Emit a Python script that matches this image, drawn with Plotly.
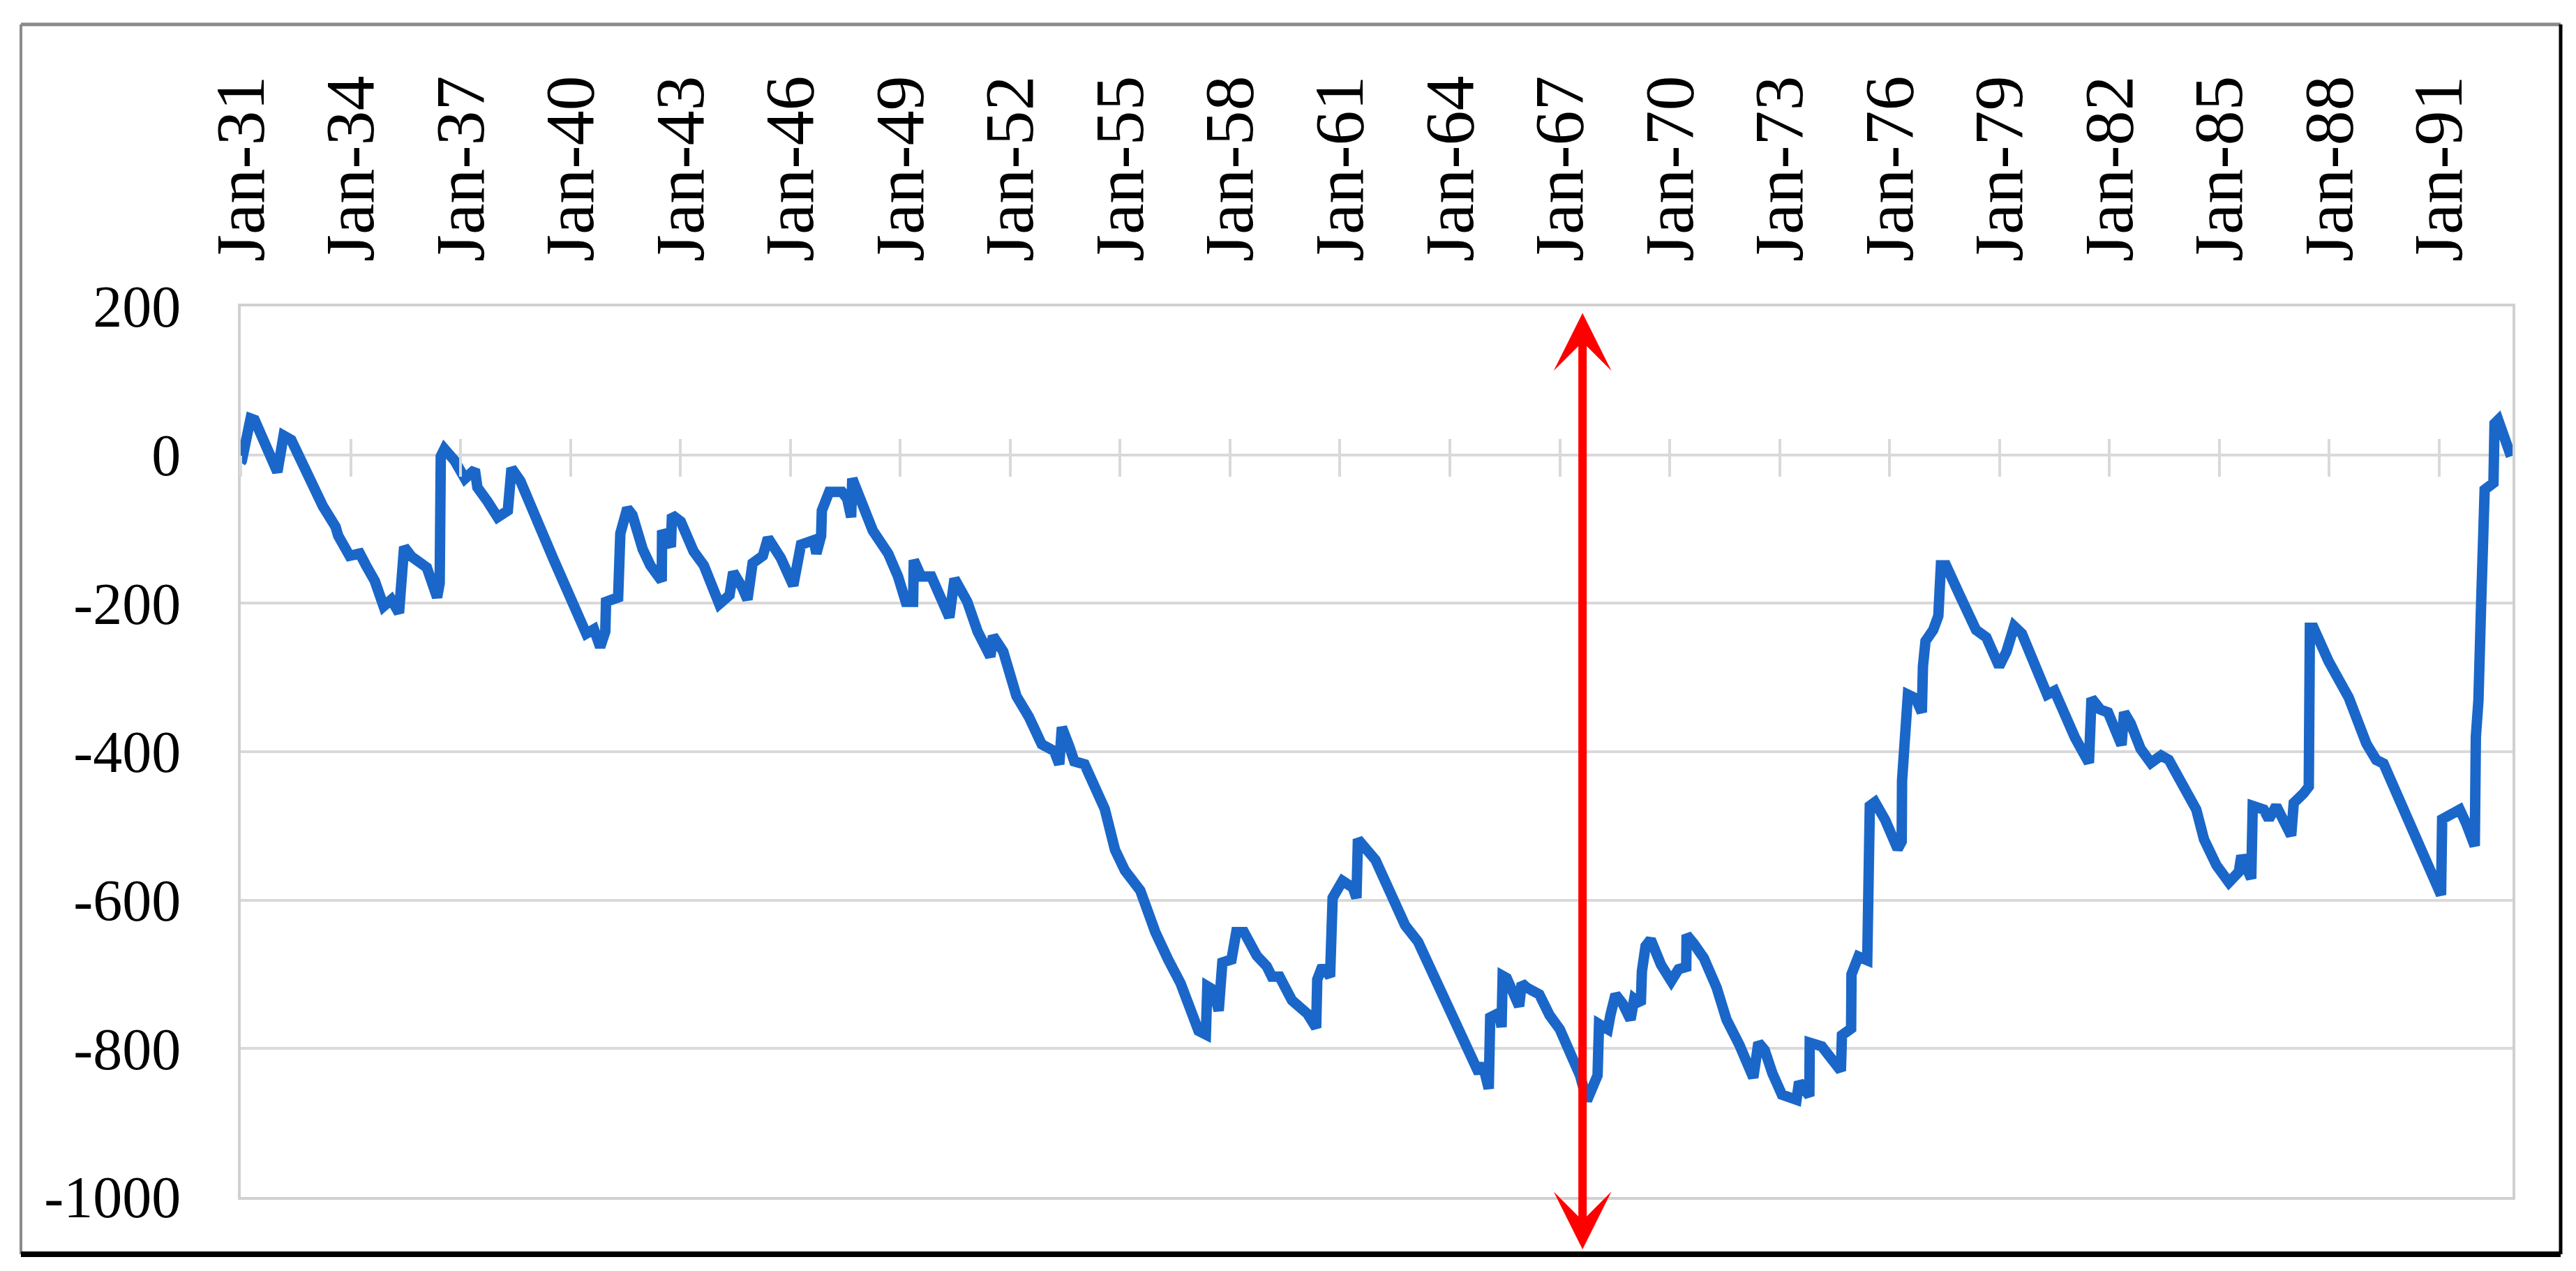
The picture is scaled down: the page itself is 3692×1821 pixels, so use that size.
import plotly.graph_objects as go

# ---------------- data ----------------
years = [
    1931.00, 1931.03, 1931.27, 1931.38, 1932.00, 1932.17, 1932.38, 1932.90, 1933.24, 1933.59,
    1933.66, 1933.97, 1934.25, 1934.42, 1934.66, 1934.90, 1935.11, 1935.32, 1935.39, 1935.46,
    1935.66, 1936.08, 1936.36, 1936.43, 1936.46, 1936.56, 1936.84, 1937.12, 1937.39, 1937.46,
    1937.74, 1938.01, 1938.29, 1938.39, 1938.63, 1939.12, 1939.53, 1940.02, 1940.43, 1940.64,
    1940.81, 1940.95, 1940.97, 1941.30, 1941.36,
    1941.55, 1941.69, 1941.97, 1942.18, 1942.49, 1942.50, 1942.74, 1942.77, 1943.01, 1943.36,
    1943.64, 1944.06, 1944.34, 1944.44, 1944.69, 1944.83, 1944.97, 1945.25, 1945.39, 1945.74,
    1946.08, 1946.29, 1946.64, 1946.71, 1946.84, 1946.86, 1947.06, 1947.41, 1947.55, 1947.66,
    1947.69, 1947.90, 1948.25, 1948.67, 1948.94, 1949.15, 1949.35, 1949.37, 1949.57, 1949.85,
    1950.34, 1950.48, 1950.83, 1951.11, 1951.46, 1951.53, 1951.81,
    1952.17, 1952.51, 1952.86, 1953.20, 1953.34, 1953.41, 1953.62, 1953.75, 1954.03, 1954.58,
    1954.86, 1955.13, 1955.55, 1955.96, 1956.31, 1956.65, 1957.14, 1957.34, 1957.38, 1957.55,
    1957.69, 1957.79, 1958.04, 1958.17, 1958.38, 1958.73, 1959.00, 1959.14, 1959.35, 1959.69,
    1960.11, 1960.35, 1960.38, 1960.52, 1960.73, 1960.80, 1961.07, 1961.35, 1961.45, 1961.49,
    1961.97, 1962.59,
    1962.78, 1963.13, 1963.34, 1963.68, 1964.03, 1964.37, 1964.65, 1964.79, 1964.89, 1965.06,
    1965.10, 1965.34, 1965.41, 1965.44, 1965.55, 1965.68, 1965.89, 1965.96, 1966.10, 1966.44,
    1966.72, 1967.00, 1967.27, 1967.55, 1967.74, 1967.89, 1968.03, 1968.07, 1968.31, 1968.38,
    1968.52, 1968.72, 1968.93, 1969.03, 1969.21, 1969.24, 1969.34, 1969.48, 1969.76, 1970.04,
    1970.24, 1970.45, 1970.46, 1970.66, 1970.93, 1971.28, 1971.55, 1971.90, 1972.11, 1972.28,
    1972.42, 1972.59, 1972.80,
    1973.06, 1973.46, 1973.53, 1973.81, 1973.82, 1974.15, 1974.43, 1974.67, 1974.70, 1974.95,
    1974.96, 1975.15, 1975.39, 1975.43, 1975.46, 1975.60, 1975.88, 1976.22, 1976.33, 1976.34,
    1976.43, 1976.50, 1976.71, 1976.88, 1976.91, 1976.98, 1977.19, 1977.33, 1977.40, 1977.54,
    1977.95, 1978.36, 1978.64, 1978.99, 1979.19, 1979.40, 1979.61, 1979.95, 1980.30, 1980.50,
    1980.71, 1981.06, 1981.44, 1981.51, 1981.75, 1981.96, 1982.33, 1982.40, 1982.58, 1982.85,
    1983.13, 1983.41, 1983.62,
    1984.03, 1984.37, 1984.58, 1984.92, 1985.26, 1985.53, 1985.60, 1985.87, 1985.91, 1986.21,
    1986.35, 1986.55, 1986.96, 1987.03, 1987.30, 1987.44, 1987.47, 1987.57, 1987.98, 1988.53,
    1989.01, 1989.28, 1989.48, 1989.75, 1990.16, 1990.57, 1991.05, 1991.08, 1991.39, 1991.56,
    1991.73, 1991.97, 1992.00, 1992.07, 1992.14, 1992.17, 1992.24, 1992.48, 1992.51, 1992.61,
    1992.96,
]

values = [
    -10, -8, 49, 47, -23, 26, 20, -35, -69, -97,
    -109, -136, -133, -149, -170, -204, -195, -213, -176, -124,
    -137, -152, -192, -173, -2, 8, -8, -32, -20, -44,
    -63, -84, -75, -18, -35, -97, -140, -195, -241, -235,
    -259, -238, -198, -192, -106,
    -72, -81, -127, -149, -170, -102, -124, -81, -90, -130,
    -149, -201, -189, -158, -179, -195, -146, -136, -112, -139,
    -176, -121, -115, -133, -109, -75, -50, -50, -59, -84,
    -32, -56, -102, -133, -164, -198, -198, -142, -164, -164,
    -219, -167, -198, -238, -272, -244, -265,
    -325, -353, -390, -399, -417, -367, -394, -413, -417, -477,
    -532, -560, -587, -643, -680, -712, -776, -781, -716, -721,
    -749, -684, -680, -643, -643, -675, -689, -703, -703, -735,
    -753, -772, -707, -689, -703, -597, -574, -583, -597, -518,
    -546, -615,
    -634, -656, -678, -718, -755, -789, -814, -833, -820, -854,
    -758, -752, -771, -702, -705, -718, -743, -712, -718, -727,
    -755, -774, -802, -836, -870, -854, -836, -767, -774, -755,
    -727, -740, -761, -733, -740, -696, -662, -653, -687, -709,
    -693, -690, -647, -659, -678, -718, -761, -795, -817, -839,
    -792, -802, -833,
    -862, -869, -845, -864, -792, -797, -816, -830, -782, -773,
    -700, -676, -681, -618, -473, -468, -492, -531, -521, -439,
    -376, -323, -328, -347, -285, -251, -236, -217, -149, -149,
    -193, -236, -246, -285, -265, -231, -241, -280, -323, -318,
    -343, -381, -415, -328, -343, -347, -391, -347, -362, -396,
    -415, -405, -411,
    -447, -478, -518, -553, -576, -562, -540, -571, -473, -478,
    -491, -473, -513, -469, -456, -447, -233, -233, -278, -327,
    -389, -411, -416, -447, -496, -536, -593, -491, -482, -478,
    -496, -527, -380, -331, -207, -109, -47, -38, 42, 47,
    -2,
]

tick_years = [1931 + 3 * i for i in range(21)]
tick_labels = ["Jan-%02d" % (y % 100) for y in tick_years]
y_ticks = [-1000, -800, -600, -400, -200, 0, 200]
y_labels = ["-1000", "-800", "-600", "-400", "-200", "0", "200"]
x_range = [1931.0, 1993.0]
y_range = [-1000, 200]

arrow_year = 1967.62
arrow_top = 191
arrow_bottom = -1072

# ---------------- layout geometry (pixels) ----------------
W, H = 3692, 1821
PL, PR, PT, PB = 337, 3593, 431, 1707
FRAME_L, FRAME_R, FRAME_T, FRAME_B = 22, 3662, 27, 1789


def px_x(px):
    return (px - PL) / (PR - PL)


def px_y(py):
    return (PB - py) / (PB - PT)


FAMILY = "Liberation Serif, Times New Roman, serif"
XFONT = dict(family=FAMILY, size=100, color="#000000")
YFONT = dict(family=FAMILY, size=84, color="#000000")
GRID = "#d9d9d9"
BOX = "#d0d0d0"

fig = go.Figure()

fig.add_trace(go.Scatter(
    x=years, y=values, mode="lines",
    line=dict(color="#1a67c9", width=15),
    hoverinfo="skip", showlegend=False,
))

# invisible traces carrying the tick-mark axes on the zero line
zero_pos = (0 - y_range[0]) / (y_range[1] - y_range[0])
for ax_name in ("x2", "x3"):
    fig.add_trace(go.Scatter(
        x=tick_years, y=[0] * len(tick_years), xaxis=ax_name, yaxis="y",
        mode="markers", marker=dict(opacity=0, size=1),
        hoverinfo="skip", showlegend=False,
    ))

fig.update_layout(
    template="none",
    width=W, height=H,
    margin=dict(l=PL, r=W - PR, t=PT, b=H - PB, pad=0),
    paper_bgcolor="white", plot_bgcolor="white",
    showlegend=False,
    xaxis=dict(
        range=x_range, side="top", tickmode="array",
        tickvals=tick_years, ticktext=tick_labels, tickangle=-90,
        tickfont=XFONT, ticks="", showgrid=False, zeroline=False,
        showline=True, mirror=True, linecolor=BOX, linewidth=4,
        ticklabelstandoff=40, automargin=False, fixedrange=True,
    ),
    xaxis2=dict(
        range=x_range, overlaying="x", anchor="free", position=zero_pos,
        side="bottom", tickmode="array", tickvals=tick_years,
        ticks="outside", ticklen=30, tickwidth=4, tickcolor=GRID,
        showticklabels=False, showline=False, showgrid=False, zeroline=False,
        automargin=False,
    ),
    xaxis3=dict(
        range=x_range, overlaying="x", anchor="free", position=zero_pos,
        side="bottom", tickmode="array", tickvals=tick_years,
        ticks="inside", ticklen=23, tickwidth=4, tickcolor=GRID,
        showticklabels=False, showline=False, showgrid=False, zeroline=False,
        automargin=False,
    ),
    yaxis=dict(
        range=y_range, tickmode="array", tickvals=y_ticks, ticktext=y_labels,
        tickfont=YFONT, ticks="", showgrid=True, gridcolor=GRID, gridwidth=4,
        zeroline=False, showline=True, mirror=True, linecolor=BOX, linewidth=4,
        ticklabelstandoff=65, automargin=False, fixedrange=True,
    ),
)

# red double-headed arrow
fig.add_annotation(
    x=arrow_year, y=arrow_top, ax=arrow_year, ay=arrow_bottom,
    xref="x", yref="y", axref="x", ayref="y",
    text="", showarrow=True,
    arrowhead=3, startarrowhead=3, arrowside="end+start",
    arrowsize=1.15, startarrowsize=1.15, arrowwidth=12,
    arrowcolor="#ff0000", standoff=0, startstandoff=0,
)

# outer frame
fl, fr, ft, fb = px_x(FRAME_L), px_x(FRAME_R), px_y(FRAME_T), px_y(FRAME_B)
frame = [
    (fl, ft, fr, ft, "#8a8a8a", 5),
    (fl, ft, fl, fb, "#8a8a8a", 4),
    (fr, ft, fr, fb, "#000000", 5),
    (fl, fb, fr, fb, "#000000", 8),
]
for x0, y0, x1, y1, c, w in frame:
    fig.add_shape(type="line", xref="paper", yref="paper",
                  x0=x0, y0=y0, x1=x1, y1=y1, line=dict(color=c, width=w))

fig.write_html("out.html")
